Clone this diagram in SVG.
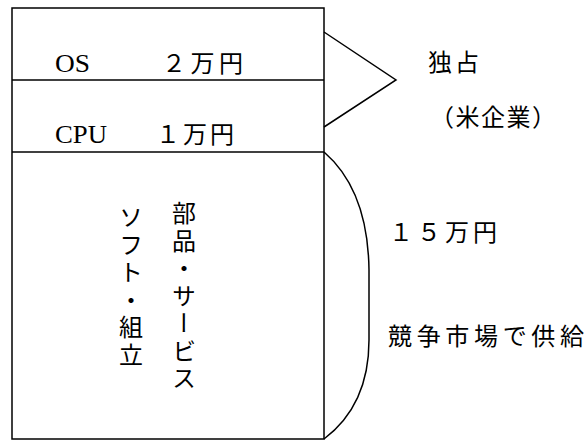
<svg xmlns="http://www.w3.org/2000/svg" width="585" height="442" viewBox="0 0 585 442">
<style>
.ln{fill:none;stroke:#000;stroke-width:1.5}
.t{font-family:"Liberation Serif","Noto Sans CJK JP",serif;font-size:25px;fill:#000}
.j{font-family:"Noto Sans CJK JP","Liberation Serif",serif;font-size:24px;fill:#000;font-weight:400}
.v{font-family:"Noto Sans CJK JP",serif;font-size:24px;fill:#000;font-weight:400;writing-mode:vertical-rl;letter-spacing:3.5px}
</style>
<rect width="585" height="442" fill="#fff"/>
<g id="stack">
<rect class="ln" x="12" y="8" width="312" height="431"/>
<line class="ln" x1="12" y1="80" x2="324" y2="80"/>
<line class="ln" x1="12" y1="152" x2="324" y2="152"/>
</g>
<g id="os">
<text class="t" x="55" y="72" textLength="35" lengthAdjust="spacingAndGlyphs">OS</text>
<text class="j" x="162" y="72" textLength="81">２万円</text>
</g>
<g id="cpu">
<text class="t" x="55" y="143" textLength="52" lengthAdjust="spacingAndGlyphs">CPU</text>
<text class="j" x="156" y="143" textLength="78">１万円</text>
</g>
<g id="parts">
<text class="v" x="184" y="201">部品・サービス</text>
<text class="v" x="131" y="205">ソフト・組立</text>
</g>
<g id="connectors">
<polyline class="ln" points="324,32 396,80 324,127"/>
<path class="ln" d="M324,152 Q368,190 369,270 L369,340 Q369,405 324,439"/>
</g>
<g id="labels">
<text class="j" x="428" y="71" textLength="51">独占</text>
<text class="j" x="430" y="126" textLength="126">（米企業）</text>
<text class="j" x="389" y="241" textLength="108">１５万円</text>
<text class="j" x="388" y="345" textLength="196">競争市場で供給</text>
</g>
</svg>
